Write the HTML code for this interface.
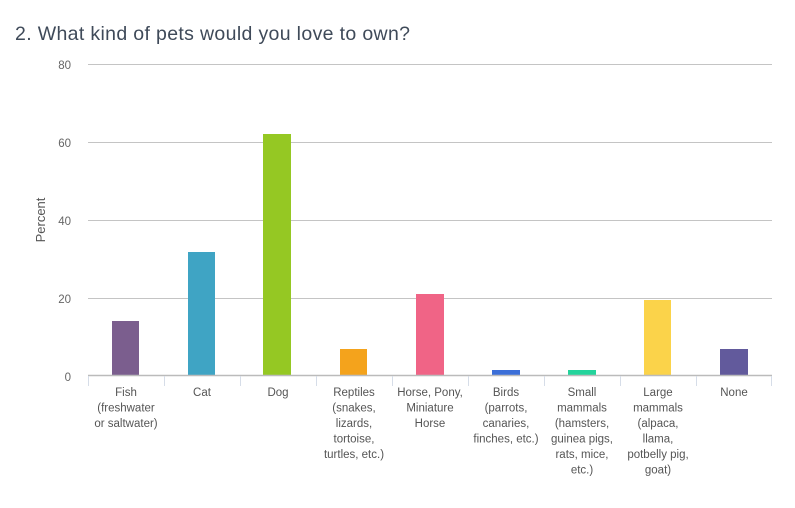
<!DOCTYPE html>
<html><head><meta charset="utf-8"><style>
body{margin:0;background:#fff;}
svg{display:block;font-family:"Liberation Sans",sans-serif;}
</style></head><body>
<svg width="795" height="508" xmlns="http://www.w3.org/2000/svg">
<text x="15" y="40" font-size="19.5" fill="#3f4a59" textLength="395">2. What kind of pets would you love to own?</text>
<g stroke="#c4c4c4" stroke-width="1">
<line x1="88" y1="64.5" x2="772" y2="64.5"/>
<line x1="88" y1="142.5" x2="772" y2="142.5"/>
<line x1="88" y1="220.5" x2="772" y2="220.5"/>
<line x1="88" y1="298.5" x2="772" y2="298.5"/>
</g>
<g font-size="11.5" fill="#666" text-anchor="end">
<text x="71" y="69">80</text><text x="71" y="147">60</text><text x="71" y="225">40</text><text x="71" y="303">20</text><text x="71" y="381">0</text>
</g>
<text transform="translate(45,220) rotate(-90)" font-size="13" fill="#555" text-anchor="middle">Percent</text>
<rect x="112" y="321" width="27" height="55" fill="#7b5e8e"/>
<rect x="188" y="252" width="27" height="124" fill="#3fa4c4"/>
<rect x="263" y="134" width="28" height="242" fill="#95c823"/>
<rect x="340" y="349" width="27" height="27" fill="#f4a31c"/>
<rect x="416" y="294" width="28" height="82" fill="#f06486"/>
<rect x="492" y="370" width="28" height="6" fill="#3c6fd8"/>
<rect x="568" y="370" width="28" height="6" fill="#24d49c"/>
<rect x="644" y="300" width="27" height="76" fill="#fbd34a"/>
<rect x="720" y="349" width="28" height="27" fill="#625a9c"/>
<line x1="88" y1="375.5" x2="772" y2="375.5" stroke="#bbb" stroke-width="1.5"/>
<g stroke="#d6dde8" stroke-width="1">
<line x1="88.5" y1="376" x2="88.5" y2="386"/><line x1="164.5" y1="376" x2="164.5" y2="386"/><line x1="240.5" y1="376" x2="240.5" y2="386"/><line x1="316.5" y1="376" x2="316.5" y2="386"/><line x1="392.5" y1="376" x2="392.5" y2="386"/><line x1="468.5" y1="376" x2="468.5" y2="386"/><line x1="544.5" y1="376" x2="544.5" y2="386"/><line x1="620.5" y1="376" x2="620.5" y2="386"/><line x1="696.5" y1="376" x2="696.5" y2="386"/><line x1="771.5" y1="376" x2="771.5" y2="386"/>
</g>
<g font-size="11.5" fill="#555" text-anchor="middle">
<text x="126" y="396">Fish</text><text x="126" y="411.5">(freshwater</text><text x="126" y="427">or saltwater)</text>
<text x="202" y="396">Cat</text>
<text x="278" y="396">Dog</text>
<text x="354" y="396">Reptiles</text><text x="354" y="411.5">(snakes,</text><text x="354" y="427">lizards,</text><text x="354" y="442.5">tortoise,</text><text x="354" y="458">turtles, etc.)</text>
<text x="430" y="396">Horse, Pony,</text><text x="430" y="411.5">Miniature</text><text x="430" y="427">Horse</text>
<text x="506" y="396">Birds</text><text x="506" y="411.5">(parrots,</text><text x="506" y="427">canaries,</text><text x="506" y="442.5">finches, etc.)</text>
<text x="582" y="396">Small</text><text x="582" y="411.5">mammals</text><text x="582" y="427">(hamsters,</text><text x="582" y="442.5">guinea pigs,</text><text x="582" y="458">rats, mice,</text><text x="582" y="473.5">etc.)</text>
<text x="658" y="396">Large</text><text x="658" y="411.5">mammals</text><text x="658" y="427">(alpaca,</text><text x="658" y="442.5">llama,</text><text x="658" y="458">potbelly pig,</text><text x="658" y="473.5">goat)</text>
<text x="734" y="396">None</text>
</g>
</svg>
</body></html>
